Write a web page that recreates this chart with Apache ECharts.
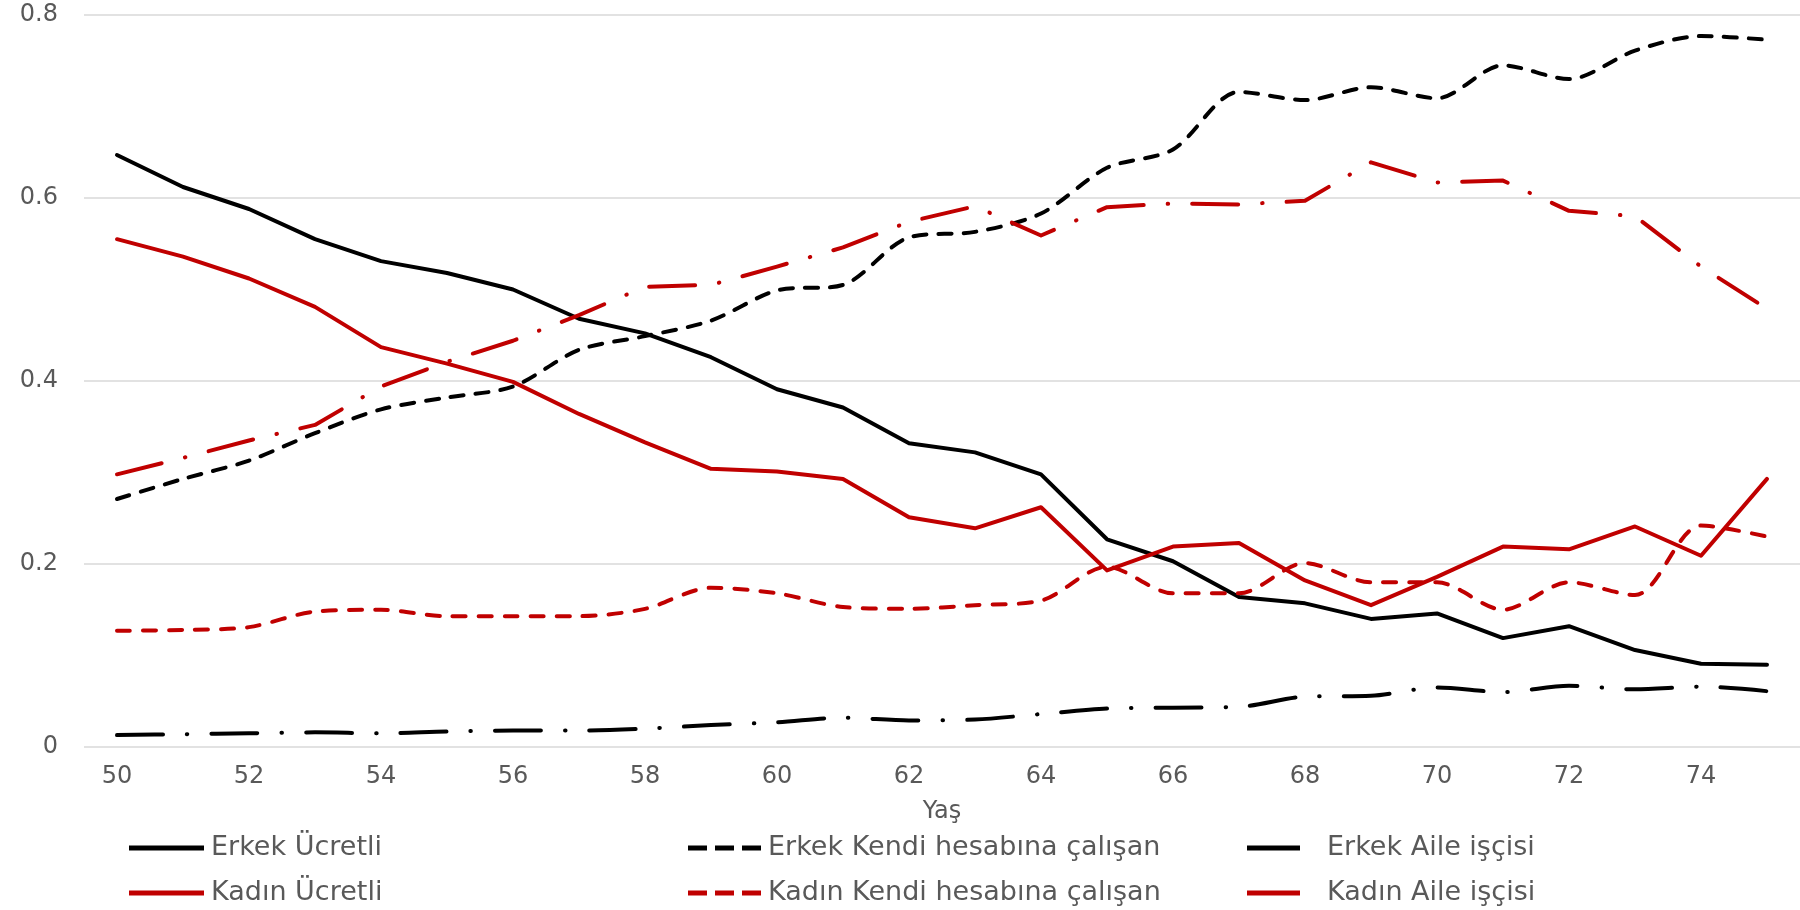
<!DOCTYPE html>
<html>
<head>
<meta charset="utf-8">
<script src="https://cdn.jsdelivr.net/npm/echarts@6/dist/echarts.min.js"></script>
<style>
  html, body { margin: 0; padding: 0; background: #fff; }
  #chart { width: 1800px; height: 910px; }
</style>
</head>
<body>
<div id="chart"></div>
<script>
// yaş kategorileri
const ages = ['50', '51', '52', '53', '54', '55', '56', '57', '58', '59', '60', '61', '62',
  '63', '64', '65', '66', '67', '68', '69', '70', '71', '72', '73', '74', '75']

const erkekUcretli = [0.647, 0.612, 0.588, 0.555, 0.531, 0.518, 0.500, 0.468, 0.452, 0.426, 0.391, 0.371, 0.332,
  0.322, 0.298, 0.227, 0.203, 0.164, 0.157, 0.140, 0.146, 0.119, 0.132, 0.106, 0.091, 0.090]
const erkekKendi = [0.271, 0.293, 0.313, 0.343, 0.369, 0.382, 0.394, 0.434, 0.449, 0.466, 0.499, 0.505, 0.557,
  0.563, 0.583, 0.633, 0.653, 0.716, 0.707, 0.721, 0.709, 0.745, 0.730, 0.761, 0.777, 0.773]
const erkekAile = [0.013, 0.014, 0.015, 0.016, 0.015, 0.017, 0.018, 0.018, 0.020, 0.024, 0.027, 0.032, 0.029,
  0.030, 0.036, 0.042, 0.043, 0.044, 0.055, 0.056, 0.065, 0.060, 0.067, 0.063, 0.066, 0.061]
const kadinUcretli = [0.555, 0.536, 0.512, 0.481, 0.437, 0.419, 0.399, 0.364, 0.333, 0.304, 0.301, 0.293, 0.251,
  0.239, 0.262, 0.193, 0.219, 0.223, 0.182, 0.155, 0.186, 0.219, 0.216, 0.241, 0.209, 0.293]
const kadinKendi = [0.127, 0.128, 0.131, 0.148, 0.150, 0.143, 0.143, 0.143, 0.151, 0.174, 0.168, 0.153, 0.151,
  0.155, 0.160, 0.197, 0.168, 0.168, 0.201, 0.180, 0.180, 0.150, 0.180, 0.166, 0.242, 0.230]
const kadinAile = [0.298, 0.316, 0.335, 0.352, 0.394, 0.421, 0.444, 0.472, 0.503, 0.505, 0.525, 0.546, 0.574,
  0.591, 0.559, 0.590, 0.594, 0.593, 0.597, 0.639, 0.617, 0.619, 0.586, 0.580, 0.525, 0.479]

const yTicks = [0, 0.2, 0.4, 0.6, 0.8]

const BLACK = '#000000'
const RED = '#c00000'
const GREY = '#595959'
const FONT = 'DejaVu Sans'

// lejant ikonları
const ICON_SOLID = 'rect'
const ICON_DASH = 'path://M0,0h19v5h-19z M27,0h19v5h-19z M54,0h19v5h-19z'

const myChart = echarts.init(document.getElementById('chart'))

const mkSeries = (name, data, color, type, smooth) => ({
  name,
  type: 'line',
  data,
  symbol: 'none',
  smooth: smooth || false,
  lineStyle: { color, width: 4, type, cap: 'round', join: 'round' },
  itemStyle: { color }
})

// tek elemanlı lejantlar, elle yerleştirilmiş
const mkLegend = (name, left, top, itemWidth, pad, icon) => ({
  data: [name],
  left,
  top,
  padding: 0,
  icon,
  itemWidth,
  itemHeight: 5,
  selectedMode: false,
  textStyle: {
    color: GREY,
    fontSize: 27,
    fontFamily: FONT,
    lineHeight: 30,
    padding: [0, 0, 0, pad]
  }
})

const option = {
  animation: false,
  backgroundColor: '#fff',
  grid: { left: 84, right: -7, top: 15, bottom: 163 },
  legend: [
    mkLegend('Erkek Ücretli', 129, 833, 75, 2, ICON_SOLID),
    mkLegend('Erkek Kendi hesabına çalışan', 688, 833, 73, 2, ICON_DASH),
    mkLegend('Erkek Aile işçisi', 1247, 833, 53, 22, ICON_SOLID),
    mkLegend('Kadın Ücretli', 129, 878, 75, 2, ICON_SOLID),
    mkLegend('Kadın Kendi hesabına çalışan', 688, 878, 73, 2, ICON_DASH),
    mkLegend('Kadın Aile işçisi', 1247, 878, 53, 22, ICON_SOLID)
  ],
  xAxis: {
    type: 'category',
    data: ages,
    boundaryGap: true,
    name: 'Yaş',
    nameLocation: 'middle',
    nameGap: 53,
    nameTextStyle: { color: GREY, fontSize: 24, fontFamily: FONT },
    axisLine: { show: false },
    axisTick: { show: false },
    axisLabel: { interval: 1, color: GREY, fontSize: 24, fontFamily: FONT, margin: 18 }
  },
  yAxis: {
    type: 'value',
    min: yTicks[0],
    max: yTicks[yTicks.length - 1],
    interval: 0.2,
    axisLine: { show: false },
    axisTick: { show: false },
    axisLabel: {
      color: GREY,
      fontSize: 24,
      fontFamily: FONT,
      margin: 26,
      formatter: v => (v === 0 ? '0' : v.toFixed(1))
    },
    splitLine: { lineStyle: { color: '#d9d9d9', width: 1.5 } }
  },
  series: [
    mkSeries('Erkek Ücretli', erkekUcretli, BLACK, 'solid'),
    mkSeries('Erkek Kendi hesabına çalışan', erkekKendi, BLACK, [13, 12], 0.3),
    mkSeries('Erkek Aile işçisi', erkekAile, BLACK, [46, 24, 0.5, 24], 0.3),
    mkSeries('Kadın Ücretli', kadinUcretli, RED, 'solid'),
    mkSeries('Kadın Kendi hesabına çalışan', kadinKendi, RED, [13, 13], 0.3),
    mkSeries('Kadın Aile işçisi', kadinAile, RED, [46, 24, 0.5, 24])
  ]
}

myChart.setOption(option)

window.addEventListener('resize', () => myChart.resize())
</script>
</body>
</html>
